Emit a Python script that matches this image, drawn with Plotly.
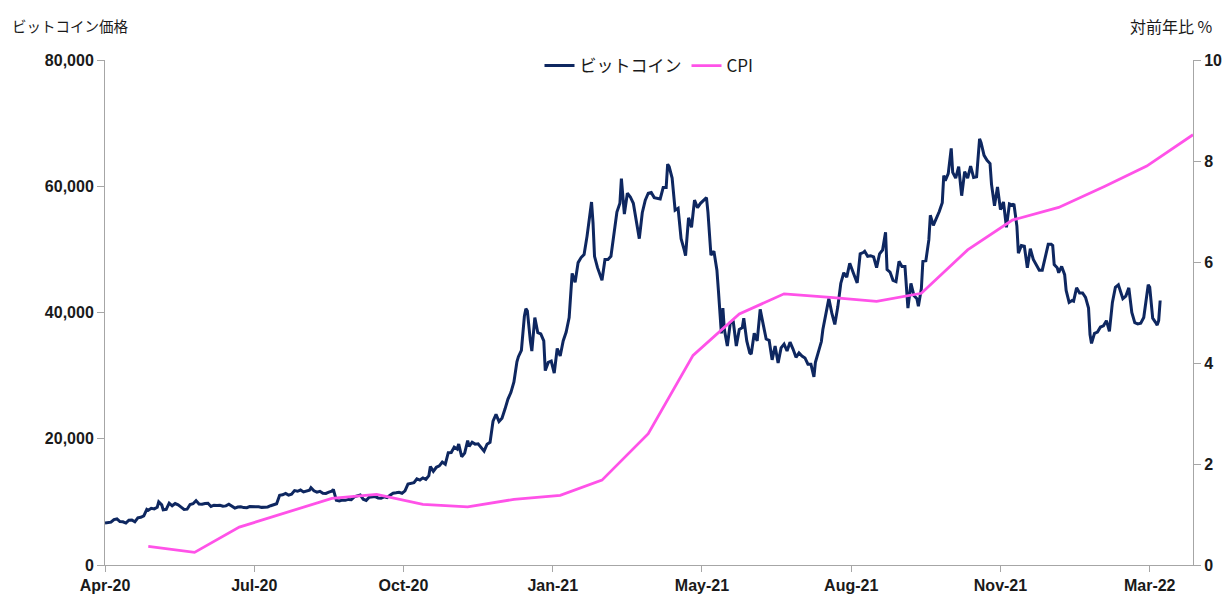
import pandas as pd
import plotly.graph_objects as go

# ---------------- data ----------------
btc_dates = [
 "2020-04-01","2020-04-03","2020-04-05","2020-04-07","2020-04-09","2020-04-11","2020-04-13","2020-04-15","2020-04-17","2020-04-19",
 "2020-04-21","2020-04-23","2020-04-25","2020-04-27","2020-04-29","2020-04-30","2020-05-02","2020-05-04","2020-05-06","2020-05-07",
 "2020-05-09","2020-05-10","2020-05-12","2020-05-14","2020-05-16","2020-05-18","2020-05-20","2020-05-22","2020-05-24","2020-05-26",
 "2020-05-28","2020-05-30","2020-06-01","2020-06-03","2020-06-05","2020-06-07","2020-06-09","2020-06-11","2020-06-13","2020-06-15",
 "2020-06-17","2020-06-19","2020-06-21","2020-06-23","2020-06-25","2020-06-27","2020-06-29","2020-07-01","2020-07-03","2020-07-05",
 "2020-07-07","2020-07-09","2020-07-11","2020-07-13","2020-07-15","2020-07-17","2020-07-19","2020-07-21","2020-07-23","2020-07-25",
 "2020-07-27","2020-07-29","2020-07-31","2020-08-02","2020-08-04","2020-08-06","2020-08-08","2020-08-10","2020-08-12","2020-08-14",
 "2020-08-16","2020-08-17","2020-08-19","2020-08-21","2020-08-23","2020-08-25","2020-08-27","2020-08-29","2020-08-31","2020-09-01",
 "2020-09-03","2020-09-05","2020-09-07","2020-09-09","2020-09-11","2020-09-13","2020-09-15","2020-09-17","2020-09-19","2020-09-21",
 "2020-09-23","2020-09-25","2020-09-27","2020-09-29","2020-10-01","2020-10-03","2020-10-05","2020-10-07","2020-10-09","2020-10-11",
 "2020-10-13","2020-10-15","2020-10-17","2020-10-19","2020-10-21","2020-10-23","2020-10-25","2020-10-27","2020-10-29","2020-10-31",
 "2020-11-02","2020-11-04","2020-11-05","2020-11-07","2020-11-09","2020-11-11","2020-11-13","2020-11-15","2020-11-17","2020-11-19",
 "2020-11-21","2020-11-23","2020-11-24","2020-11-26","2020-11-28","2020-11-30","2020-12-01","2020-12-03","2020-12-05","2020-12-07",
 "2020-12-09","2020-12-11","2020-12-13","2020-12-15","2020-12-17","2020-12-19","2020-12-21","2020-12-23","2020-12-25","2020-12-27",
 "2020-12-29","2020-12-31",
 "2021-01-02","2021-01-03","2021-01-05","2021-01-07","2021-01-08","2021-01-09","2021-01-11","2021-01-12","2021-01-14","2021-01-16",
 "2021-01-18","2021-01-20","2021-01-21","2021-01-23","2021-01-25","2021-01-27","2021-01-29","2021-01-31","2021-02-02","2021-02-04",
 "2021-02-06","2021-02-08","2021-02-10","2021-02-12","2021-02-14","2021-02-16","2021-02-18","2021-02-20","2021-02-21","2021-02-22",
 "2021-02-23","2021-02-25","2021-02-26","2021-02-28","2021-03-02","2021-03-04","2021-03-06","2021-03-08","2021-03-10","2021-03-12",
 "2021-03-13","2021-03-15","2021-03-17","2021-03-19","2021-03-21","2021-03-23","2021-03-25","2021-03-27","2021-03-29","2021-03-31",
 "2021-04-02","2021-04-04","2021-04-06","2021-04-08","2021-04-10","2021-04-12","2021-04-13","2021-04-14","2021-04-16","2021-04-18",
 "2021-04-20","2021-04-22","2021-04-24","2021-04-25","2021-04-27","2021-04-29","2021-05-01","2021-05-03","2021-05-05","2021-05-07",
 "2021-05-09","2021-05-10","2021-05-12","2021-05-14","2021-05-16","2021-05-17","2021-05-19","2021-05-20","2021-05-21","2021-05-23",
 "2021-05-25","2021-05-27","2021-05-29","2021-05-31","2021-06-02","2021-06-03","2021-06-05","2021-06-07","2021-06-08","2021-06-10",
 "2021-06-12","2021-06-14","2021-06-16","2021-06-18","2021-06-20","2021-06-22","2021-06-24","2021-06-26","2021-06-28","2021-06-30",
 "2021-07-02","2021-07-04","2021-07-06","2021-07-08","2021-07-10","2021-07-12","2021-07-14","2021-07-16","2021-07-18","2021-07-20",
 "2021-07-21","2021-07-23","2021-07-25","2021-07-26","2021-07-28","2021-07-30","2021-08-01","2021-08-03","2021-08-05","2021-08-07",
 "2021-08-09","2021-08-11","2021-08-13","2021-08-14","2021-08-16","2021-08-18","2021-08-20","2021-08-22","2021-08-23","2021-08-25",
 "2021-08-27","2021-08-29","2021-08-31","2021-09-02","2021-09-04","2021-09-06","2021-09-07","2021-09-09","2021-09-11","2021-09-13",
 "2021-09-15","2021-09-17","2021-09-19","2021-09-21","2021-09-23","2021-09-25","2021-09-27","2021-09-28","2021-09-30","2021-10-01",
 "2021-10-03","2021-10-05","2021-10-06","2021-10-08","2021-10-10","2021-10-12","2021-10-14","2021-10-15","2021-10-16","2021-10-18",
 "2021-10-20","2021-10-21","2021-10-23","2021-10-25","2021-10-27","2021-10-29","2021-10-31","2021-11-02","2021-11-04","2021-11-06",
 "2021-11-08","2021-11-09","2021-11-11","2021-11-13","2021-11-15","2021-11-16","2021-11-18","2021-11-20","2021-11-22","2021-11-24",
 "2021-11-26","2021-11-28","2021-11-30","2021-12-01","2021-12-03","2021-12-04","2021-12-06","2021-12-08","2021-12-10","2021-12-12",
 "2021-12-14","2021-12-16","2021-12-18","2021-12-20","2021-12-22","2021-12-24","2021-12-26","2021-12-27","2021-12-28","2021-12-30",
 "2021-12-31",
 "2022-01-02","2022-01-04","2022-01-05","2022-01-07","2022-01-09","2022-01-10","2022-01-12","2022-01-14","2022-01-16","2022-01-18",
 "2022-01-20","2022-01-21","2022-01-22","2022-01-24","2022-01-26","2022-01-28","2022-01-30","2022-02-01","2022-02-03","2022-02-05",
 "2022-02-07","2022-02-09","2022-02-10","2022-02-12","2022-02-14","2022-02-16","2022-02-18","2022-02-20","2022-02-22","2022-02-24",
 "2022-02-26","2022-02-28","2022-03-01","2022-03-02","2022-03-04","2022-03-06","2022-03-07","2022-03-08","2022-03-09",
]
btc_values = [
 6640,6730,6780,7200,7300,6880,6850,6640,7100,7130,
 6840,7480,7550,7790,8800,8660,8980,8890,9160,9990,
 9520,8730,8820,9790,9380,9730,9520,9170,8790,8840,
 9580,9700,10200,9660,9630,9750,9770,9280,9480,9430,
 9450,9300,9360,9630,9250,9010,9190,9230,9090,9070,
 9250,9250,9230,9240,9130,9150,9200,9390,9600,9700,
 11050,11120,11350,11070,11230,11780,11680,11880,11580,11770,
 11850,12250,11760,11540,11680,11370,11330,11540,11680,11970,
 10240,10130,10270,10240,10390,10330,10790,10960,11090,10420,
 10230,10740,10780,10840,10620,10580,10790,10670,11060,11380,
 11430,11510,11360,11750,12820,12930,13030,13650,13460,13800,
 13560,14150,15590,14830,15480,15700,16300,15950,17800,17820,
 18680,18370,19160,17150,17720,19700,18800,19450,19150,19190,
 18550,18040,19140,19430,22800,23870,22720,23240,24700,26280,
 27360,29000,
 32200,33000,34000,39400,40600,40250,35500,33900,39200,36800,
 36600,35500,30800,32100,32300,30400,34300,33100,35500,36900,
 39200,46200,44800,47900,48700,49200,52100,55900,57500,54200,
 48900,47100,46300,45100,48400,48400,48900,52400,55900,57300,
 61200,55600,58900,58300,57300,54500,51700,55800,57800,58900,
 59000,58200,58100,58000,59800,59800,63500,63100,61300,56200,
 56500,51700,50000,49000,55000,53500,57800,56600,57300,57800,
 58200,55900,49100,49700,46700,43500,36700,40700,37300,34700,
 38400,38500,34700,37300,37600,39100,35500,33600,33400,36700,
 35500,40500,38300,35800,35600,32500,34700,32000,34400,35000,
 33900,35300,34200,32900,33600,33100,32800,31800,31800,29800,
 32100,33600,35400,37300,40000,42200,39900,38100,40900,44600,
 46300,45600,47800,47100,45900,44700,49300,49500,49700,48900,
 49000,48800,47100,49300,49900,52700,46800,46400,45100,44900,
 48100,47300,47300,40700,44600,42700,42200,41000,43800,48100,
 48200,51500,55400,53800,54800,56000,57400,61700,60900,62000,
 66000,62200,61300,63100,58500,62300,61300,63200,61400,61500,
 67500,66900,64900,64100,63600,60300,56900,59900,56300,57500,
 53500,57200,57000,57200,53700,49400,50600,50500,47100,50100,
 48400,47600,46700,46700,48900,50800,50800,50600,47600,47100,
 46300,
 47300,46000,43500,41600,41900,41800,43900,43100,43100,42400,
 40700,36500,35100,36700,36900,37700,37900,38700,37000,41600,
 44000,44400,43600,42200,42600,43900,40000,38400,38200,38300,
 39200,43200,44400,44000,39100,38400,38000,38700,41900,
]

cpi_dates = [
 "2020-04-30","2020-05-31","2020-06-30","2020-07-31","2020-08-31","2020-09-30",
 "2020-10-31","2020-11-30","2020-12-31","2021-01-31","2021-02-28","2021-03-31",
 "2021-04-30","2021-05-31","2021-06-30","2021-07-31","2021-08-31","2021-09-30",
 "2021-10-31","2021-11-30","2021-12-31","2022-01-31","2022-02-28","2022-03-31",
]
cpi_values = [
 0.37, 0.25, 0.75, 1.03, 1.32, 1.40,
 1.20, 1.15, 1.30, 1.38, 1.68, 2.60,
 4.15, 4.97, 5.37, 5.30, 5.22, 5.38,
 6.24, 6.83, 7.08, 7.50, 7.90, 8.52,
]

x_tick_labels = ["Apr-20", "Jul-20", "Oct-20", "Jan-21", "May-21", "Aug-21", "Nov-21", "Mar-22"]
left_ticks = [0, 20000, 40000, 60000, 80000]
right_ticks = [0, 2, 4, 6, 8, 10]

series_names = ["ビットコイン", "CPI"]
left_title = "ビットコイン価格"
right_title = "対前年比&nbsp;%"

# ---------------- figure ----------------
BTC_COLOR = "#0e2760"
CPI_COLOR = "#ff52e8"
AXIS_COLOR = "#a6a6a6"
TICK_FONT = dict(family="Liberation Sans Narrow, Arial Narrow, sans-serif", size=16,
                 color="#1a1a1a", weight="bold")
CJK_FONT = "Noto Sans CJK JP, sans-serif"

start = pd.Timestamp("2020-04-01")
tick_positions = [start + pd.Timedelta(days=100 * i) for i in range(len(x_tick_labels))]

fig = go.Figure()
fig.add_trace(go.Scatter(
    x=pd.to_datetime(btc_dates), y=btc_values, name=series_names[0], mode="lines",
    line=dict(color=BTC_COLOR, width=3), yaxis="y",
))
fig.add_trace(go.Scatter(
    x=pd.to_datetime(cpi_dates), y=cpi_values, name=series_names[1], mode="lines",
    line=dict(color=CPI_COLOR, width=2.8), yaxis="y2",
))

fig.update_layout(
    width=1230, height=595,
    margin=dict(l=105, r=37, t=60, b=30),
    paper_bgcolor="white", plot_bgcolor="white",
    showlegend=True,
    legend=dict(
        orientation="h", x=0.5, xanchor="center", y=0.988, yanchor="middle",
        font=dict(family=CJK_FONT, size=17, color="#1a1a1a"),
        bgcolor="rgba(0,0,0,0)", itemwidth=30, tracegroupgap=0,
    ),
    xaxis=dict(
        type="date", range=["2020-04-01", "2022-03-31"], automargin=False,
        tickmode="array", tickvals=tick_positions, ticktext=x_tick_labels,
        showline=True, linecolor=AXIS_COLOR, linewidth=1,
        ticks="outside", ticklen=6, tickcolor=AXIS_COLOR,
        showgrid=False, zeroline=False, tickfont=TICK_FONT,
    ),
    yaxis=dict(
        range=[0, 80000], tickmode="array", tickvals=left_ticks, automargin=False,
        ticktext=[f"{v:,}" for v in left_ticks],
        showline=True, linecolor=AXIS_COLOR, linewidth=1,
        ticks="outside", ticklen=7, tickcolor=AXIS_COLOR,
        showgrid=False, zeroline=False, tickfont=TICK_FONT,
    ),
    yaxis2=dict(
        range=[0, 10], overlaying="y", side="right", tickmode="array", automargin=False,
        tickvals=right_ticks, ticktext=[str(v) for v in right_ticks],
        showline=True, linecolor=AXIS_COLOR, linewidth=1,
        ticks="outside", ticklen=7, tickcolor=AXIS_COLOR,
        showgrid=False, zeroline=False, tickfont=TICK_FONT,
    ),
    annotations=[
        dict(text=left_title, xref="paper", yref="paper", x=-0.0873, y=1.068,
             xanchor="left", yanchor="middle", showarrow=False,
             font=dict(family=CJK_FONT, size=14.5, color="#1a1a1a")),
        dict(text=right_title, xref="paper", yref="paper", x=1.0206, y=1.068,
             xanchor="right", yanchor="middle", showarrow=False,
             font=dict(family=CJK_FONT, size=16, color="#1a1a1a")),
    ],
)

fig.write_html("out.html")
